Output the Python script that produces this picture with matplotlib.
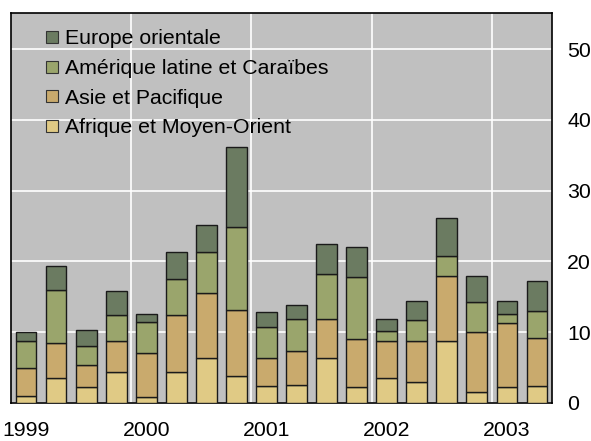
import matplotlib.pyplot as plt
import matplotlib
from matplotlib.lines import Line2D
import numpy as np

fontsize = 15.3
matplotlib.rcParams['font.family'] = ['Liberation Sans', 'DejaVu Sans']
matplotlib.rcParams['font.size'] = fontsize

# quarterly data, 1999 Q1 to 2003 Q2
quarters = ['1999T1', '1999T2', '1999T3', '1999T4',
            '2000T1', '2000T2', '2000T3', '2000T4',
            '2001T1', '2001T2', '2001T3', '2001T4',
            '2002T1', '2002T2', '2002T3', '2002T4',
            '2003T1', '2003T2']
afrique = [1.0, 3.5, 2.2, 4.4, 0.8, 4.4, 6.4, 3.8, 2.4, 2.6, 6.3, 2.2, 3.6, 2.9, 8.7, 1.5, 2.2, 2.4]
asie = [3.9, 5.0, 3.1, 4.4, 6.3, 8.1, 9.1, 9.4, 3.9, 4.8, 5.6, 6.8, 5.1, 5.9, 9.3, 8.6, 9.1, 6.8]
amerique = [3.9, 7.4, 2.7, 3.6, 4.4, 5.0, 5.9, 11.6, 4.5, 4.4, 6.3, 8.8, 1.5, 2.9, 2.7, 4.2, 1.3, 3.8]
europe = [1.3, 3.4, 2.3, 3.4, 1.1, 3.9, 3.8, 11.3, 2.0, 2.1, 4.3, 4.3, 1.7, 2.7, 5.4, 3.7, 1.8, 4.3]

series = [
    ('Afrique et Moyen-Orient', afrique, '#e0ca85'),
    ('Asie et Pacifique', asie, '#c9aa6d'),
    ('Amérique latine et Caraïbes', amerique, '#9aa56c'),
    ('Europe orientale', europe, '#6b7b61'),
]
year_labels = ['1999', '2000', '2001', '2002', '2003']

fig = plt.figure(figsize=(5.91, 4.41), dpi=100)
ax = fig.add_axes([0.0186, 0.0862, 0.9154, 0.8843])
ax.set_facecolor('#c0c0c0')

x = np.arange(len(quarters))
bottom = np.zeros(len(quarters))
for name, vals, col in series:
    ax.bar(x, vals, bottom=bottom, width=0.69, color=col, edgecolor='#1a1a1a', linewidth=1, zorder=3)
    bottom += np.array(vals)

ax.set_xlim(-0.5, len(quarters) - 0.5)
ax.set_ylim(0, 55.1)

# year labels under first quarter, grid at year borders
ax.set_xticks(np.arange(0, len(quarters), 4))
ax.set_xticklabels(year_labels)
ax.set_xticks(np.arange(3.5, len(quarters) - 1, 4), minor=True)
ax.tick_params(axis='x', which='both', length=0, pad=13)
ax.grid(axis='x', which='minor', color='white', linewidth=1.2, zorder=1)

ax.set_yticks([0, 10, 20, 30, 40, 50])
ax.yaxis.tick_right()
ax.tick_params(axis='y', length=0, pad=11)
ax.grid(axis='y', which='major', color='white', linewidth=1.2, zorder=1)

for s in ax.spines.values():
    s.set_color('black')
    s.set_linewidth(1.2)

# legend, top series first
handles = [Line2D([], [], marker='s', linestyle='none', markersize=8.8,
                  markerfacecolor=col, markeredgecolor='#333333', markeredgewidth=0.8)
           for name, vals, col in series[::-1]]
labels = [name for name, vals, col in series[::-1]]
ax.legend(handles, labels, loc='upper left', bbox_to_anchor=(0.045, 0.985), frameon=False,
          borderpad=0, handlelength=0.6, handletextpad=0.3, labelspacing=0.5, fontsize=fontsize)

plt.savefig('out.png', dpi=100)
